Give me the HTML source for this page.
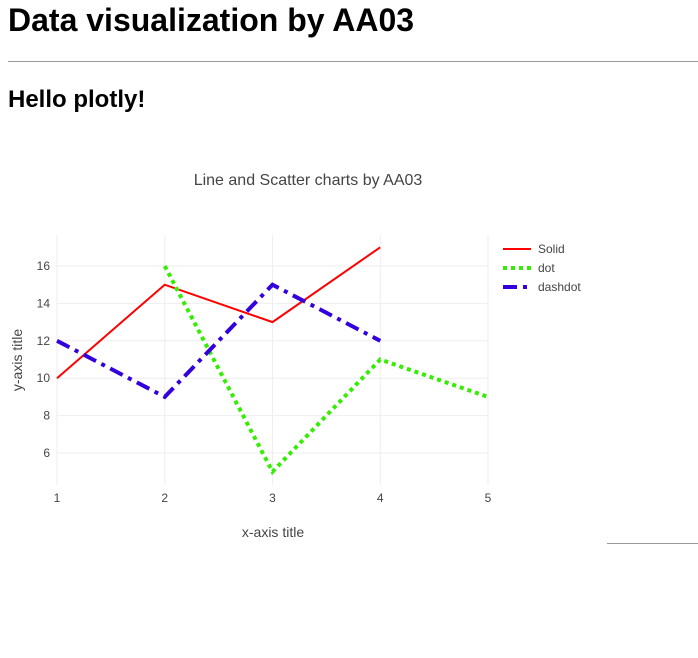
<!DOCTYPE html>
<html><head><meta charset="utf-8"><style>
body{margin:0;width:698px;height:658px;background:#fff;font-family:"Liberation Sans","Noto Sans CJK KR",sans-serif;position:relative;overflow:hidden}
h1{position:absolute;left:8px;top:2px;margin:0;font-size:32px;font-weight:bold;color:#000}
h2{position:absolute;left:8px;top:86px;margin:0;font-size:24px;font-weight:bold;color:#000}
.hr{position:absolute;left:8px;top:61px;width:690px;height:0;border-top:1px solid #999}
.hr2{position:absolute;left:607px;top:543px;width:91px;border-top:1px solid #999}
svg{position:absolute;left:0;top:0}
</style></head><body>
<h1>Data visualization by AA03</h1>
<div class="hr"></div>
<h2>Hello plotly!</h2>
<div class="hr2"></div>
<svg id="chart" width="698" height="658" font-family="Liberation Sans, sans-serif"></svg>
<script>
const xs1=[1,2,3,4];
const solidVals=[10,15,13,17];
const xs2=[2,3,4,5];
const dotVals=[16,5,11,9];
const xs3=[1,2,3,4];
const dashdotVals=[12,9,15,12];
const xTicks=[1,2,3,4,5];
const yTicks=[6,8,10,12,14,16];
const seriesNames=["Solid","dot","dashdot"];
const NS="http://www.w3.org/2000/svg";
const svg=document.getElementById('chart');
const X=v=>57+(v-1)*(488-57)/4;
const Y=v=>266-(v-16)*(453-266)/(6-16)*-1;
function el(t,a,txt){const e=document.createElementNS(NS,t);for(const k in a)e.setAttribute(k,a[k]);if(txt!==undefined)e.textContent=txt;svg.appendChild(e);return e;}
yTicks.forEach(t=>{
 const g=el('line',{x1:57,x2:488,y1:Y(t),y2:Y(t),stroke:'#eee','stroke-width':1});
 
 
 const l=el('text',{x:50,y:Y(t)+4,'text-anchor':'end','font-size':12,fill:'#444'},t);
 
 
});
xTicks.forEach(t=>{
 const g=el('line',{x1:X(t),x2:X(t),y1:235,y2:485,stroke:'#eee','stroke-width':1});
 
 
 const l=el('text',{x:X(t),y:502,'text-anchor':'middle','font-size':12,fill:'#444'},t);
 
 
});
function series(xs,ys,color,w,dash,name){
 const p=el('polyline',{points:xs.map((x,i)=>X(x)+','+Y(ys[i])).join(' '),fill:'none',stroke:color,'stroke-width':w,'stroke-dasharray':dash});
 
 
}
series(xs1,solidVals,'#ff0000',2,'none','series-solid');
series(xs2,dotVals,'#33ee00',4,'4,4','series-dot');
series(xs3,dashdotVals,'#3300dd',4,'14,6,4,6','series-dashdot');
const t=el('text',{x:308,y:185,'text-anchor':'middle','font-size':16,fill:'#444'},'Line and Scatter charts by AA03');


const xt=el('text',{x:273,y:537,'text-anchor':'middle','font-size':14,fill:'#444'},'x-axis title');


const yt=el('text',{x:22,y:360,'text-anchor':'middle','font-size':14,fill:'#444',transform:'rotate(-90 22 360)'},'y-axis title');


const legStyles=[['#ff0000',2,'none'],['#33ee00',4,'4,4'],['#3300dd',4,'14,6,4,6']];
seriesNames.forEach((n,i)=>{
 const y=249+i*19;
 const ln=el('line',{x1:503,x2:531,y1:y,y2:y,stroke:legStyles[i][0],'stroke-width':legStyles[i][1],'stroke-dasharray':legStyles[i][2]});
 
 
 const tx=el('text',{x:538,y:y+4,'font-size':12,fill:'#444'},n);
 
 
});
</script>
</body></html>
